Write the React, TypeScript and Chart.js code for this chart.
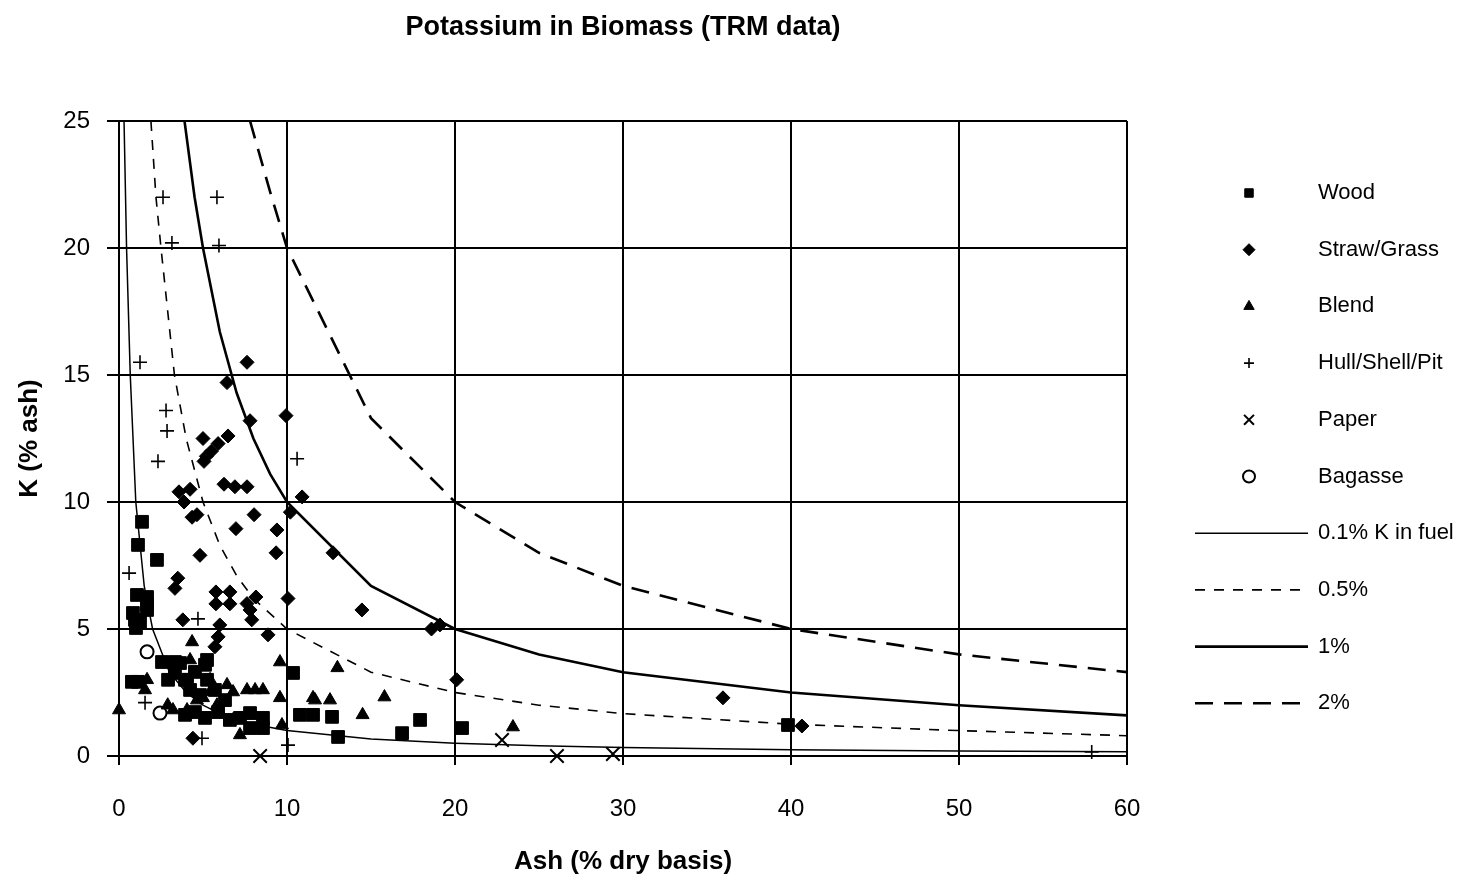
import React, { useEffect, useRef } from 'react';
import { Chart, registerables } from 'chart.js';
import { drawPoint } from 'chart.js/helpers';

Chart.register(...registerables);

const FONT = '"Liberation Sans", Arial, Helvetica, sans-serif';

// ---- Data ----
const chartTitle = 'Potassium in Biomass (TRM data)';
const xAxisTitle = 'Ash (% dry basis)';
const yAxisTitle = 'K (% ash)';

const woodX = [1.37, 1.13, 2.26, 1.07, 1.67, 1.67, 1.67, 0.83, 0.95, 1.01, 1.25, 0.77, 1.13, 2.56, 3.33, 3.63, 5.24, 2.92, 3.33, 3.93, 4.52, 5.12, 5.24, 4.05, 4.23, 4.82, 5.71, 6.31, 5.9, 5.12, 4.52, 3.93, 6.6, 7.2, 7.8, 8.57, 8.57, 7.8, 10.36, 10.77, 11.55, 12.68, 13.04, 16.85, 17.92, 20.42, 39.82];
const woodY = [9.22, 8.31, 7.72, 6.34, 6.26, 5.95, 5.75, 5.63, 5.36, 5.04, 5.28, 2.92, 2.92, 3.7, 3.7, 3.66, 3.78, 3.0, 3.27, 3.0, 3.31, 3.59, 3.0, 3.0, 2.6, 2.4, 2.6, 2.2, 1.73, 1.5, 1.73, 1.62, 1.42, 1.5, 1.69, 1.5, 1.1, 1.1, 3.27, 1.62, 1.62, 1.54, 0.75, 0.9, 1.42, 1.1, 1.22];

const strawX = [7.62, 6.43, 7.8, 9.94, 5.0, 6.49, 5.9, 5.5, 5.2, 5.06, 10.9, 6.25, 6.9, 7.62, 3.57, 4.23, 3.87, 10.2, 4.35, 4.64, 8.04, 6.96, 9.4, 9.35, 12.74, 4.82, 3.5, 3.33, 14.46, 10.06, 5.77, 6.6, 5.77, 6.6, 8.15, 7.62, 7.8, 7.9, 3.8, 6.0, 5.9, 5.71, 8.87, 18.6, 19.1, 20.1, 35.95, 40.65, 4.4];
const strawY = [15.5, 14.7, 13.2, 13.4, 12.5, 12.6, 12.3, 12.0, 11.8, 11.6, 10.2, 10.7, 10.6, 10.6, 10.4, 10.5, 10.0, 9.6, 9.4, 9.5, 9.5, 8.95, 8.9, 8.0, 8.0, 7.9, 7.0, 6.6, 5.75, 6.2, 6.46, 6.46, 5.99, 5.99, 6.26, 6.0, 5.75, 5.36, 5.36, 5.16, 4.69, 4.3, 4.77, 5.0, 5.16, 3.0, 2.29, 1.18, 0.7];

const blendX = [0.0, 4.35, 9.58, 1.67, 1.55, 4.23, 6.43, 6.79, 7.62, 8.1, 8.57, 9.58, 3.21, 4.05, 4.64, 5.42, 5.83, 6.79, 7.2, 9.7, 11.55, 13.0, 11.67, 12.56, 14.5, 15.8, 23.45, 2.9, 5.0, 5.42];
const blendY = [1.81, 4.49, 3.7, 3.0, 2.6, 3.78, 2.8, 2.52, 2.6, 2.6, 2.6, 2.29, 1.81, 1.81, 2.2, 3.0, 2.0, 1.42, 0.83, 1.22, 2.29, 3.47, 2.2, 2.2, 1.62, 2.32, 1.14, 2.0, 2.29, 2.52];

const hullX = [2.62, 5.83, 3.15, 5.95, 1.25, 2.8, 2.86, 2.32, 10.6, 0.6, 4.7, 1.55, 4.94, 10.06, 57.9];
const hullY = [22.0, 22.0, 20.2, 20.1, 15.5, 13.6, 12.8, 11.6, 11.7, 7.2, 5.4, 2.1, 0.7, 0.43, 0.16];

const paperX = [8.4, 22.8, 26.07, 29.4];
const paperY = [0.0, 0.63, 0.0, 0.08];

const bagasseX = [1.67, 2.44];
const bagasseY = [4.1, 1.69];

// Reference curves (K in fuel)
const k01X = [0.3, 0.45, 0.67, 1.0, 1.5, 2.0, 3.0, 4.0, 5.0, 6.0, 8.0, 10, 15, 20, 25, 30, 40, 50, 60];
const k01Y = [25, 20, 15, 10, 6.7, 5.0, 3.3, 2.5, 2.0, 1.67, 1.25, 1.0, 0.67, 0.5, 0.4, 0.33, 0.25, 0.2, 0.17];

const k05X = [1.9, 2.2, 2.5, 3.3, 4.0, 5.0, 6.0, 7.0, 8.0, 10, 15, 20, 25, 30, 40, 50, 60];
const k05Y = [25, 22, 20, 15, 12.5, 10, 8.3, 7.1, 6.2, 5.0, 3.3, 2.5, 2.0, 1.67, 1.25, 1.0, 0.8];

const k1X = [3.9, 4.5, 5.0, 6.0, 7.0, 8.0, 9.0, 10, 15, 20, 25, 30, 40, 50, 60];
const k1Y = [25, 22, 20, 16.7, 14.3, 12.5, 11.1, 10, 6.7, 5.0, 4.0, 3.3, 2.5, 2.0, 1.6];

const k2X = [7.8, 9.0, 10, 15, 20, 25, 30, 40, 50, 60];
const k2Y = [25, 22.2, 20, 13.3, 10, 8.0, 6.7, 5.0, 4.0, 3.3];

const xTicksMin = 0, xTicksMax = 60, xStep = 10;
const yTicksMin = 0, yTicksMax = 25, yStep = 5;

const pts = (xs: number[], ys: number[]) => xs.map((x, i) => ({ x, y: ys[i] }));

const sideLegend = {
  id: 'sideLegend',
  afterDraw(chart: any) {
    const { ctx, chartArea } = chart;
    const lineStart = chartArea.right + 68;
    const lineEnd = chartArea.right + 181;
    const markX = chartArea.right + 122;
    const textX = chartArea.right + 191;
    const y0 = chartArea.top + 72;
    const step = 56.7;
    ctx.save();
    chart.data.datasets.forEach((ds: any, i: number) => {
      const y = y0 + i * step;
      ctx.save();
      if (ds.showLine) {
        ctx.strokeStyle = ds.borderColor;
        ctx.lineWidth = ds.borderWidth;
        ctx.setLineDash(ds.legendDash || ds.borderDash || []);
        ctx.beginPath();
        ctx.moveTo(lineStart, y);
        ctx.lineTo(lineEnd, y);
        ctx.stroke();
      } else {
        ctx.fillStyle = ds.pointBackgroundColor;
        ctx.strokeStyle = ds.pointBorderColor;
        ctx.lineWidth = ds.pointBorderWidth;
        drawPoint(ctx, { pointStyle: ds.pointStyle, radius: ds.legendRadius, borderWidth: ds.pointBorderWidth, rotation: 0 }, markX, y);
      }
      ctx.restore();
      ctx.fillStyle = '#000';
      ctx.font = `22px ${FONT}`;
      ctx.textBaseline = 'middle';
      ctx.textAlign = 'left';
      ctx.fillText(ds.label, textX, y);
    });
    ctx.restore();
  },
};

export default function App() {
  const ref = useRef<HTMLCanvasElement | null>(null);

  useEffect(() => {
    if (!ref.current) return;
    Chart.defaults.font.family = FONT;
    Chart.defaults.color = '#000';

    const black = '#000';
    const scatterBase = {
      showLine: false,
      pointBackgroundColor: black,
      pointBorderColor: black,
      pointBorderWidth: 1,
      clip: false as any,
    };

    const chart = new Chart(ref.current, {
      type: 'scatter',
      data: {
        datasets: [
          { ...scatterBase, label: 'Wood', data: pts(woodX, woodY), pointStyle: 'rect', pointRadius: 9, legendRadius: 6 } as any,
          { ...scatterBase, label: 'Straw/Grass', data: pts(strawX, strawY), pointStyle: 'rectRot', pointRadius: 7, legendRadius: 6 } as any,
          { ...scatterBase, label: 'Blend', data: pts(blendX, blendY), pointStyle: 'triangle', pointRadius: 7.5, legendRadius: 6 } as any,
          { ...scatterBase, label: 'Hull/Shell/Pit', data: pts(hullX, hullY), pointStyle: 'cross', pointRadius: 7, pointBorderWidth: 1.6, legendRadius: 5 } as any,
          { ...scatterBase, label: 'Paper', data: pts(paperX, paperY), pointStyle: 'crossRot', pointRadius: 9.5, pointBorderWidth: 2, legendRadius: 7 } as any,
          { ...scatterBase, label: 'Bagasse', data: pts(bagasseX, bagasseY), pointStyle: 'circle', pointRadius: 6.5, pointBackgroundColor: '#fff', pointBorderWidth: 2, legendRadius: 6 } as any,
          { label: '0.1% K in fuel', data: pts(k01X, k01Y), showLine: true, borderColor: black, borderWidth: 1.5, pointRadius: 0, tension: 0 } as any,
          { label: '0.5%', data: pts(k05X, k05Y), showLine: true, borderColor: black, borderWidth: 1.6, borderDash: [10, 9], pointRadius: 0, tension: 0 } as any,
          { label: '1%', data: pts(k1X, k1Y), showLine: true, borderColor: black, borderWidth: 2.6, pointRadius: 0, tension: 0 } as any,
          { label: '2%', data: pts(k2X, k2Y), showLine: true, borderColor: black, borderWidth: 2.6, borderDash: [18, 11], pointRadius: 0, tension: 0 } as any,
        ],
      },
      options: {
        animation: false,
        responsive: false,
        events: [],
        layout: { padding: { left: 0, right: 337, top: 0, bottom: 0 } },
        plugins: {
          legend: { display: false },
          tooltip: { enabled: false },
          title: {
            display: true,
            text: chartTitle,
            fullSize: false,
            color: '#000',
            font: { size: 27, weight: 'bold', family: FONT },
            padding: { top: 11, bottom: 77.6 },
          },
        },
        scales: {
          x: {
            type: 'linear',
            min: xTicksMin,
            max: xTicksMax,
            afterFit: (s: any) => { s.height = 126; },
            ticks: { stepSize: xStep, padding: 30, font: { size: 24, family: FONT }, color: '#000', maxRotation: 0 },
            grid: { color: black, lineWidth: 2, tickLength: 9, drawTicks: true },
            border: { display: true, color: black, width: 2 },
            title: { display: true, text: xAxisTitle, color: '#000', font: { size: 26, weight: 'bold', family: FONT }, padding: { top: 0, bottom: 5 } },
          },
          y: {
            type: 'linear',
            min: yTicksMin,
            max: yTicksMax,
            afterFit: (s: any) => { s.width = 119; },
            ticks: { stepSize: yStep, padding: 17, font: { size: 24, family: FONT }, color: '#000' },
            grid: { color: black, lineWidth: 2, tickLength: 12, drawTicks: true },
            border: { display: true, color: black, width: 2 },
            title: { display: true, text: yAxisTitle, color: '#000', font: { size: 26, weight: 'bold', family: FONT }, padding: { top: 14, bottom: 0 } },
          },
        },
      } as any,
      plugins: [sideLegend],
    });
    return () => chart.destroy();
  }, []);

  return (
    <div style={{ position: 'fixed', left: 0, top: 0, width: 1464, height: 882, background: '#fff' }}>
      <canvas ref={ref} width={1464} height={882} style={{ display: 'block' }} />
    </div>
  );
}
